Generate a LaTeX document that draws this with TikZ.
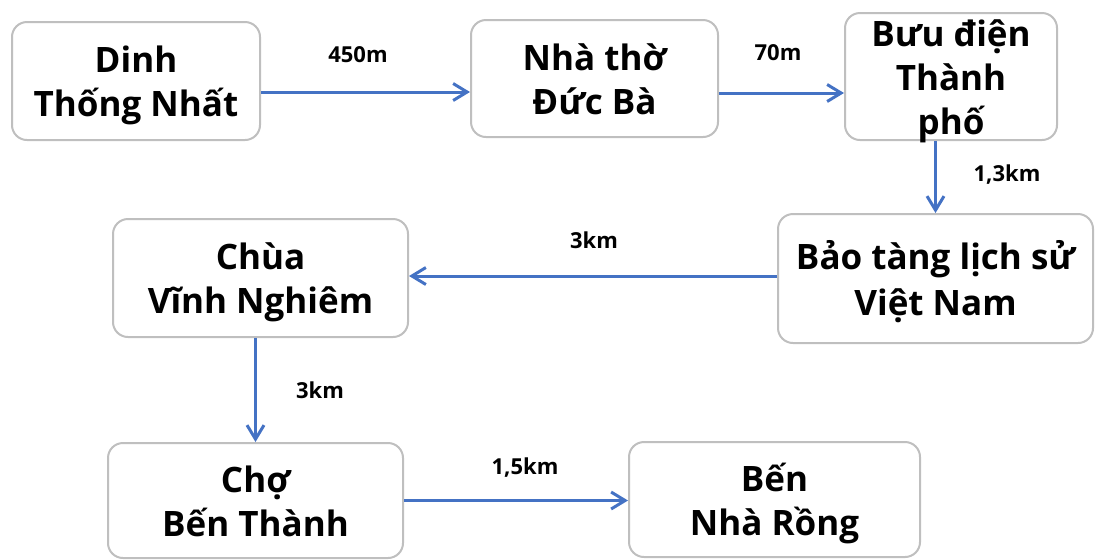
\documentclass[tikz,border=0pt]{standalone}
\usepackage{fontspec}
\setmainfont{Open Sans}
\usetikzlibrary{arrows.meta}
\definecolor{linkblue}{HTML}{4472C4}
\definecolor{boxgray}{HTML}{BFBFBF}
\newcommand\ls{\rule[-4pt]{0pt}{22pt}}
\begin{document}
\begin{tikzpicture}[x=0.5pt,y=-0.5pt,
	place/.style={draw=boxgray,line width=1pt,rounded corners=7.5pt,fill=white,align=center,inner sep=0pt,
		font=\bfseries\fontsize{17.5}{22}\selectfont},
	dist/.style={font=\bfseries\fontsize{11}{13}\selectfont,inner sep=0pt},
	link/.style={draw=linkblue,line width=1.5pt,-{Straight Barb[length=7pt,width=8.5pt]}}]
\useasboundingbox (0,0) rectangle (1095,559);
% places
\node[place,minimum width=124pt,minimum height=59pt] (dinh) at (136,81) {\ls Dinh\\Thống Nhất\ls};
\node[place,minimum width=123.5pt,minimum height=58.5pt] (nhatho) at (594.5,78.5) {\ls Nhà thờ\\Đức Bà\ls};
\node[place,minimum width=106pt,minimum height=63.5pt,inner ysep=-2pt] (buudien) at (951,76.5) {\ls Bưu điện\\Thành\\phố\ls};
\node[place,minimum width=157.5pt,minimum height=64.5pt] (baotang) at (935.5,278.5) {\ls Bảo tàng lịch sử\\Việt Nam\ls};
\node[place,minimum width=147.5pt,minimum height=59pt] (chua) at (260.5,278) {\ls Chùa\\Vĩnh Nghiêm\ls};
\node[place,minimum width=147.5pt,minimum height=57.5pt] (cho) at (255.5,500.5) {\ls Chợ\\Bến Thành\ls};
\node[place,minimum width=145.5pt,minimum height=57.5pt] (bennharong) at (774.5,499.5) {\ls Bến\\Nhà Rồng\ls};
% distances
\node[dist] (d1) at (358,55) {450m};
\node[dist] (d2) at (778,53) {70m};
\node[dist] (d3) at (1007,175) {1,3km};
\node[dist] (d4) at (594,240) {3km};
\node[dist] (d5) at (320,390) {3km};
\node[dist] (d6) at (525,468) {1,5km};
% route
\draw[link] (dinh.east |- 0,92) -- (nhatho.west |- 0,92);
\draw[link] (nhatho.east |- 0,93) -- (buudien.west |- 0,93);
\draw[link] (buudien.south -| baotang.north) -- (baotang.north);
\draw[link] (baotang.west |- 0,276) -- (chua.east |- 0,276);
\draw[link] (chua.south -| cho.north) -- (cho.north);
\draw[link] (cho.east) -- (cho.east -| bennharong.west);
\end{tikzpicture}
\end{document}
